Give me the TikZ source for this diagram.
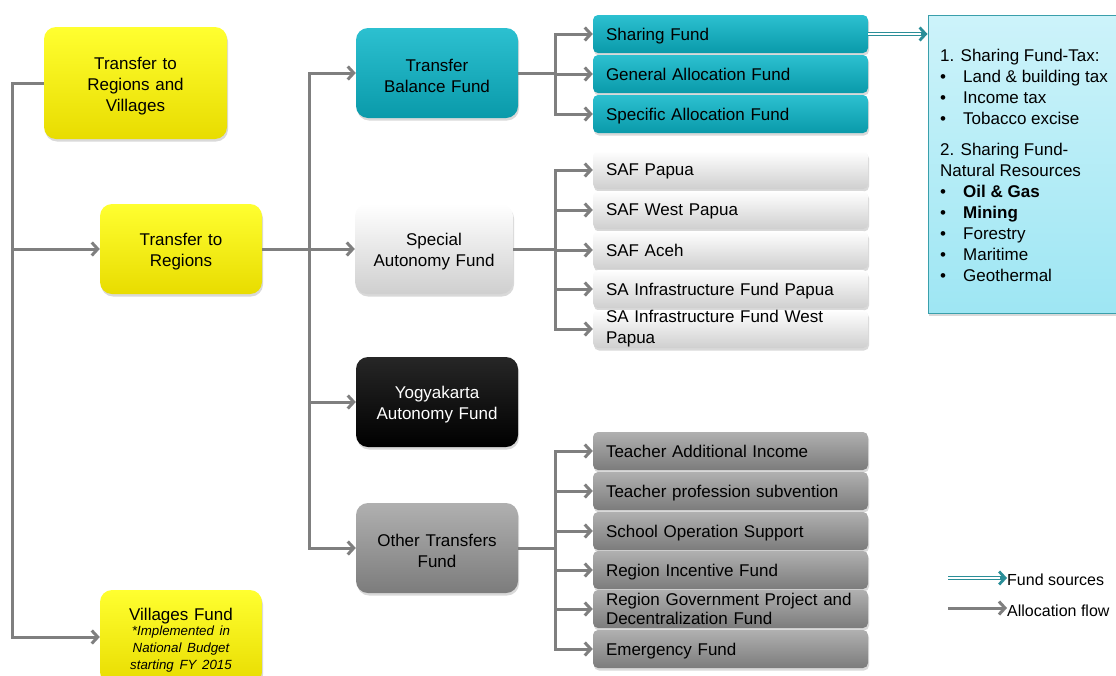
\documentclass[tikz,border=0pt]{standalone}
\usepackage{fontspec}
\setmainfont{Liberation Sans}
\usetikzlibrary{arrows.meta,shadows,calc}

\definecolor{flowgray}{HTML}{7F7F7F}
\definecolor{tealtop}{HTML}{2CC0D0}
\definecolor{tealbot}{HTML}{0A9AAA}
\definecolor{yeltop}{HTML}{FFFF30}
\definecolor{yelbot}{HTML}{E8DC00}
\definecolor{lgtop}{HTML}{FFFFFF}
\definecolor{lgbot}{HTML}{CFCFCF}
\definecolor{dgtop}{HTML}{B0B0B0}
\definecolor{dgbot}{HTML}{7C7C7C}
\definecolor{srctop}{HTML}{CDF3FA}
\definecolor{srcbot}{HTML}{9EE6F3}
\definecolor{srcedge}{HTML}{3A9FAB}
\definecolor{srcline}{HTML}{2A8E98}

\newcommand\mainfs{\fontsize{17}{21}\selectfont}
\newcommand\srcbullet{\makebox[23pt][l]{\textbullet}}
\newcommand\topstrut{\rule{0pt}{18pt}}

\begin{document}
\begin{tikzpicture}[x=1pt,y=-1pt,
  shade/.style={drop shadow={shadow xshift=1pt,shadow yshift=-2.5pt,opacity=0.3}},
  bigbox/.style={shade,rounded corners=12pt,minimum width=162pt,minimum height=90pt,
    text width=154pt,align=center,font=\mainfs,inner sep=0pt,
    execute at begin node=\topstrut},
  yellowbox/.style={bigbox,top color=yeltop,bottom color=yelbot},
  tealbox/.style={bigbox,top color=tealtop,bottom color=tealbot},
  lightbox/.style={bigbox,top color=lgtop,bottom color=lgbot},
  darkbox/.style={bigbox,top color=dgtop,bottom color=dgbot},
  blackbox/.style={bigbox,top color=black!85,bottom color=black,text=white},
  rowbox/.style={shade,rounded corners=5pt,minimum width=275pt,minimum height=38pt,
    text width=249pt,inner xsep=13pt,inner ysep=0pt,align=left,font=\mainfs},
  oneline/.style={text depth=0pt},
  tealrow/.style={rowbox,top color=tealtop,bottom color=tealbot},
  lightrow/.style={rowbox,top color=lgtop,bottom color=lgbot},
  darkrow/.style={rowbox,top color=dgtop,bottom color=dgbot},
  flow/.style={draw=flowgray,line width=3pt,-{Straight Barb[length=6pt,width=13pt]}},
  srcline/.style={draw=srcline,double=white,double distance=1.4pt,line width=1.3pt},
  srctip/.style={draw=srcline,line width=2.8pt,-{Straight Barb[length=6pt,width=13pt]}},
]
\path[use as bounding box] (0,0) rectangle (1116,675);
\clip (0,0) rectangle (1116,675);

% main column boxes
\node[yellowbox] (rv)  at (135.5,83) [minimum width=183pt,minimum height=112pt] {Transfer to\\Regions and\\Villages};
\node[yellowbox] (tr)  at (181,249) {Transfer to\\Regions};
\node[yellowbox] (vf)  at (181,637) [minimum height=94pt]
  {Villages Fund\\[-2pt]{\itshape\fontsize{13.3}{17}\selectfont *Implemented in\\National Budget\\starting FY 2015\par}};

% second column boxes
\node[tealbox]  (tbf) at (437,73)  {Transfer\\Balance Fund};
\node[lightbox] (saf) at (434,249) [minimum width=158pt] {Special\\Autonomy Fund};
\node[blackbox] (yog) at (437,402) {Yogyakarta\\Autonomy Fund};
\node[darkbox]  (otf) at (437,548) {Other Transfers\\Fund};

% transfer balance rows
\node[tealrow,oneline] (r1) at (730.5,34)  {Sharing Fund};
\node[tealrow,oneline] (r2) at (730.5,74)  {General Allocation Fund};
\node[tealrow,oneline] (r3) at (730.5,114) {Specific Allocation Fund};

% special autonomy rows
\node[lightrow,oneline] (s1) at (730.5,170) {SAF Papua};
\node[lightrow,oneline] (s2) at (730.5,210) {SAF West Papua};
\node[lightrow,oneline] (s3) at (730.5,250) {SAF Aceh};
\node[lightrow,oneline] (s4) at (730.5,289) {SA Infrastructure Fund Papua};
\node[lightrow] (s5) at (730.5,329) {SA Infrastructure Fund West\\Papua};

% other transfer rows
\node[darkrow,oneline] (o1) at (730.5,451) {Teacher Additional Income};
\node[darkrow,oneline] (o2) at (730.5,491) {Teacher profession subvention};
\node[darkrow,oneline] (o3) at (730.5,531) {School Operation Support};
\node[darkrow,oneline] (o4) at (730.5,570) {Region Incentive Fund};
\node[darkrow] (o5) at (730.5,609) {Region Government Project and\\[-2pt]Decentralization Fund};
\node[darkrow,oneline] (o6) at (730.5,649) {Emergency Fund};

% fund source box
\node[shade,draw=srcedge,line width=1pt,top color=srctop,bottom color=srcbot,
  minimum width=200pt,minimum height=298pt,inner sep=0pt] (src) at (1028,164) {};
\node[anchor=north west,align=left,font=\mainfs,inner sep=0pt] (srctxt) at (940,49)
  {1. Sharing Fund-Tax:\\
   \srcbullet Land \& building tax\\
   \srcbullet Income tax\\
   \srcbullet Tobacco excise\\[10pt]
   2. Sharing Fund-\\
   Natural Resources\\
   \srcbullet\textbf{Oil \& Gas}\\
   \srcbullet\textbf{Mining}\\
   \srcbullet Forestry\\
   \srcbullet Maritime\\
   \srcbullet Geothermal};

% allocation flow: left trunk
\draw[flow] (rv.west) -- ++(-31,0) |- (tr.west);
\draw[flow] (rv.west) -- ++(-31,0) |- (vf.west);

% allocation flow: second trunk
\draw[flow] (tr.east) -- (saf.west);
\draw[flow] (tr.east) -- ++(47,0) |- (tbf.west);
\draw[flow] (tr.east) -- ++(47,0) |- (yog.west);
\draw[flow] (tr.east) -- ++(47,0) |- (otf.west);

% allocation flow: branches to rows
\foreach \r in {r1,r2,r3} \draw[flow] (tbf.east) -- ++(37,0) |- (\r.west);
\foreach \r in {s1,s2,s3,s4,s5} \draw[flow] (saf.east) -- ++(42,0) |- (\r.west);
\foreach \r in {o1,o2,o3,o4,o5,o6} \draw[flow] (otf.east) -- ++(37,0) |- (\r.west);

% fund source arrow
\coordinate (srcin) at (r1.east -| src.west);
\draw[srcline] (r1.east) -- ($(srcin)+(-3,0)$);
\draw[srctip] ($(srcin)+(-7,0)$) -- (srcin);

% legend
\coordinate (lga) at (948,578);
\coordinate (lgb) at (1007,578);
\coordinate (lgc) at (948,608);
\coordinate (lgd) at (1007,608);
\draw[srcline] (lga) -- ($(lgb)+(-3,0)$);
\draw[srctip] ($(lgb)+(-7,0)$) -- (lgb);
\draw[flow] (lgc) -- (lgd);
\node[anchor=west,inner sep=0pt,font=\fontsize{16}{18}\selectfont] (lgt1) at (1007,580) {Fund sources};
\node[anchor=west,inner sep=0pt,font=\fontsize{16}{18}\selectfont] (lgt2) at (1007,611) {Allocation flow};
\end{tikzpicture}
\end{document}
